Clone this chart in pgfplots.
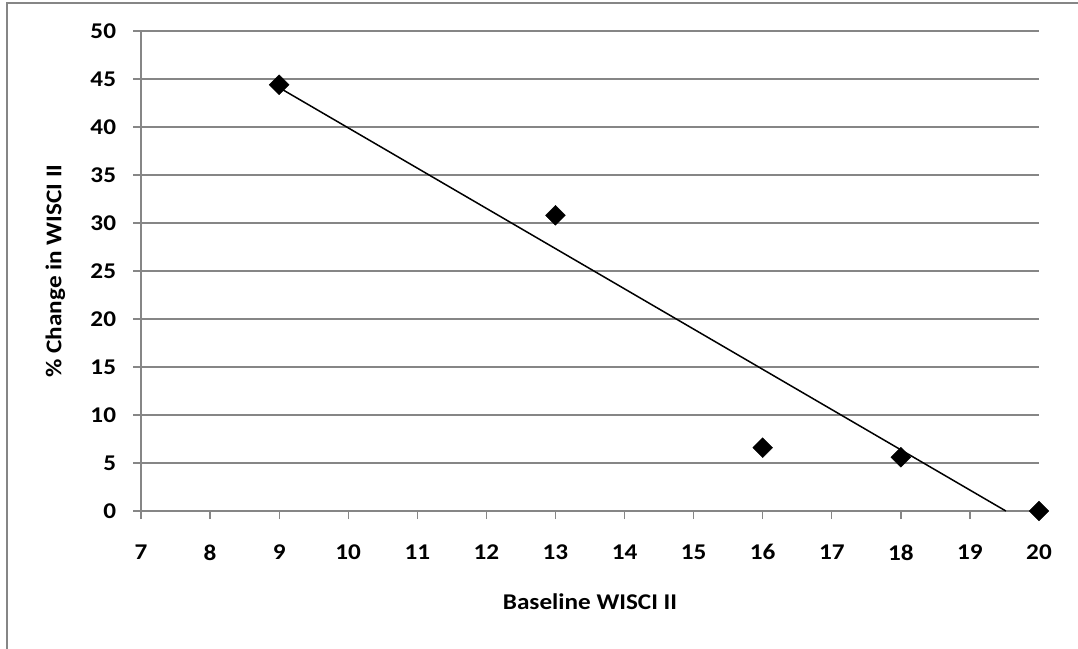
\documentclass[border=0pt]{standalone}
\usepackage{pgfplots}
\pgfplotsset{compat=1.18}
\usepackage{fontspec}
\setmainfont{Carlito}
\definecolor{gridgray}{RGB}{134,134,134}
\begin{document}
\begin{tikzpicture}[x=1pt,y=1pt]
\path[use as bounding box] (0,0) rectangle (1078,648);
\draw[gridgray, line width=1.2pt] (7,-10) -- (7,645) -- (1090,645);
\begin{axis}[
 at={(141pt,137pt)}, anchor=south west,
 scale only axis, width=898pt, height=480pt,
 xmin=7,xmax=20,ymin=0,ymax=50,
 xtick={7,...,20}, ytick={0,5,...,50},
 axis x line*=bottom, axis y line*=left,
 axis line style={gridgray, line width=1.3pt, -},
 tick style={gridgray, line width=1.3pt},
 major tick length=8pt, tick align=outside,
 ymajorgrids, grid style={gridgray, line width=1.3pt},
 tick label style={font=\fontsize{22.5}{26}\selectfont\bfseries, xscale=1.12},
 xticklabel shift=22pt, yticklabel shift=13pt,
 /pgf/number format/assume math mode=true,
 label style={font=\fontsize{22.5}{26}\selectfont\bfseries},
 xlabel={Baseline WISCI II},
 ylabel={\% Change in WISCI II},
 xlabel style={at={(axis description cs:0.5,-0.1896)}, anchor=center, xscale=1.12},
 ylabel style={at={(axis description cs:-0.0952,0.5)}, anchor=center, xscale=1.12},
 clip=false,
]
\addplot[black, line width=1.5pt, no marks] coordinates {(9,44.1) (19.52,0)};
\addplot[only marks, mark=square*, mark size=7pt, mark options={rotate=45, fill=black, draw=black}] coordinates {(9,44.4) (13,30.8) (16,6.6) (18,5.6) (20,0)};
\end{axis}
\end{tikzpicture}
\end{document}
